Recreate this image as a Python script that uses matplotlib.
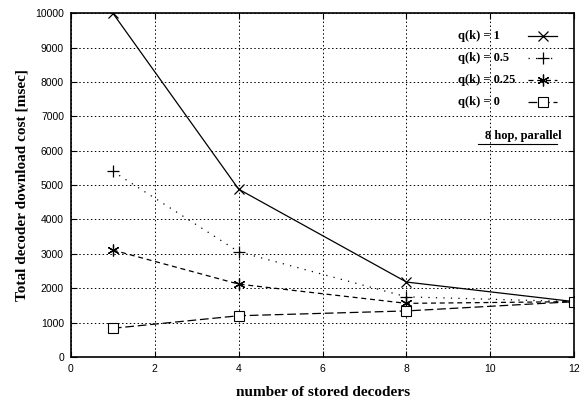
import matplotlib
matplotlib.use("Agg")
from matplotlib import pyplot as plt

# stored decoders vs download cost
decoders = [1, 4, 8, 12]
cost_q1 = [10000, 4880, 2180, 1610]
cost_q05 = [5400, 3060, 1750, 1610]
cost_q025 = [3110, 2120, 1560, 1610]
cost_q0 = [835, 1200, 1340, 1610]

labels = ["q(k) = 1", "q(k) = 0.5", "q(k) = 0.25", "q(k) = 0"]
xticks = list(range(0, 13, 2))
yticks = list(range(0, 10001, 1000))

serif = "Liberation Serif"
sans = "Liberation Sans"

styles = [
    dict(ls="-", marker="x", ms=7.5, mew=0.9),
    dict(ls=(0, (1, 5)), marker="+", ms=8.5, mew=0.9),
    dict(ls=(0, (4, 3)), marker=(6, 2, 0), ms=8.5, mew=0.9),
    dict(ls=(0, (7, 3)), marker="s", ms=7.5, mew=0.8, markerfacecolor="white"),
]
series = [cost_q1, cost_q05, cost_q025, cost_q0]

fig = plt.figure(figsize=(5.86, 4.05), dpi=100)
ax = fig.add_axes([0.121, 0.1185, 0.859, 0.849])

for vals, st in zip(series, styles):
    ax.plot(decoders, vals, color="k", lw=0.9, **st)

ax.set_xlim(0, 12)
ax.set_ylim(0, 10000)
ax.set_xticks(xticks)
ax.set_yticks(yticks)
ax.grid(True, color="k", ls=(0, (1.5, 2.5)), lw=0.7)
ax.tick_params(direction="in", top=True, right=True, length=4, width=0.8, labelsize=7.5, pad=5)
for lab in ax.get_xticklabels() + ax.get_yticklabels():
    lab.set_fontfamily(sans)
for sp in ax.spines.values():
    sp.set_linewidth(1.2)

ax.set_xlabel("number of stored decoders", fontfamily=serif, fontweight="bold", fontsize=11, labelpad=9)
ax.set_ylabel("Total decoder download cost [msec]", fontfamily=serif, fontweight="bold", fontsize=11, labelpad=5)

# gnuplot style key: labels left aligned, samples on the right
key_y = [0.933, 0.869, 0.805, 0.741]
for lab, st, yk in zip(labels, styles, key_y):
    ax.text(0.769, yk, lab, transform=ax.transAxes, ha="left", va="center",
            fontfamily=serif, fontweight="bold", fontsize=9)
    line_st = {k: v for k, v in st.items() if k == "ls"}
    mark_st = {k: v for k, v in st.items() if k != "ls"}
    ax.plot([0.908, 0.966], [yk, yk], transform=ax.transAxes, color="k", lw=0.9, clip_on=False, **line_st)
    ax.plot([0.938], [yk], transform=ax.transAxes, color="k", ls="none", clip_on=False, **mark_st)

ax.text(0.974, 0.642, "8 hop, parallel", transform=ax.transAxes, ha="right", va="center",
        fontfamily=serif, fontweight="bold", fontsize=9)
ax.plot([0.809, 0.966], [0.619, 0.619], transform=ax.transAxes, color="k", lw=0.8)

fig.savefig("out.png", dpi=100)
